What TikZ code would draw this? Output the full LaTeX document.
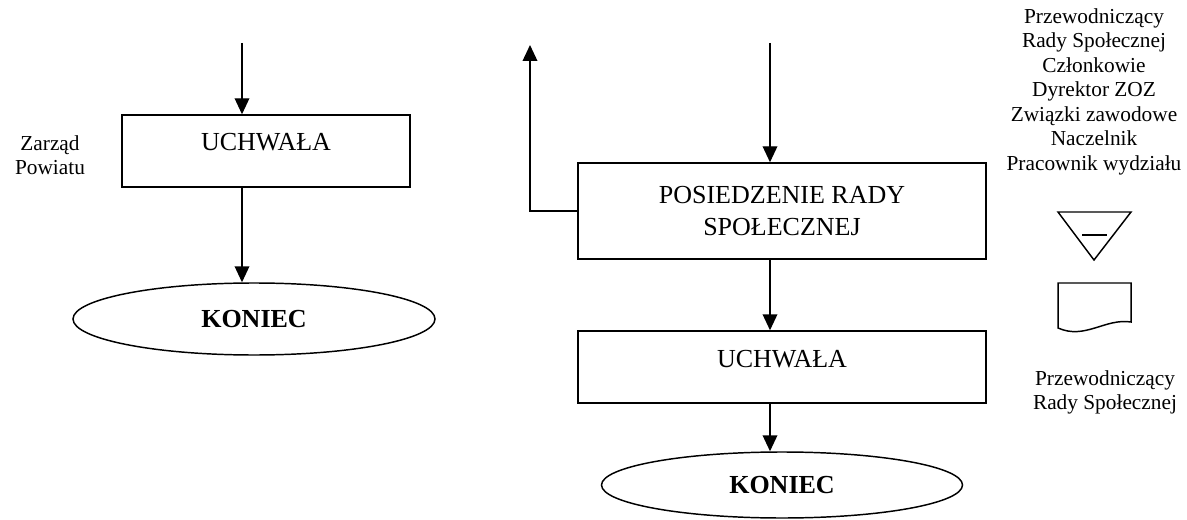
\documentclass[tikz,border=0pt]{standalone}
\usepackage{fontspec}
\setmainfont{Liberation Serif}
\usepackage[]{tikz}
\usetikzlibrary{positioning,shapes}
\usetikzlibrary{arrows.meta}
\tikzset{box node/.style={rectangle,draw,line width=1.1pt,inner sep=0pt,font=\fontsize{19.5}{24}\selectfont}}
\tikzset{one line/.style={text height=8pt,text depth=8pt}}
\tikzset{end node/.style={ellipse,draw,line width=1.1pt,inner sep=0pt,font=\fontsize{19.5}{24}\selectfont\bfseries}}
\tikzset{side text/.style={align=center,inner sep=0pt,font=\fontsize{16}{18.4}\selectfont}}
\tikzset{arr/.style={-{Triangle[length=12pt,width=11pt]},line width=1.1pt}}

\begin{document}
\begin{tikzpicture}[on grid, x=0.75pt, y=-0.75pt]
      \useasboundingbox (0,0) rectangle (1187,520);
      \node[box node, one line, minimum width=216pt, minimum height=54pt] (1) at (266,151) {UCHWAŁA};
      \node[end node, minimum width=271.5pt, minimum height=54pt] (2) [below left = 126pt and 9pt of 1] {KONIEC};
      \node[box node, align=center, minimum width=306pt, minimum height=72pt] (3) at (782,211) {POSIEDZENIE RADY\\SPOŁECZNEJ};
      \node[box node, one line, minimum width=306pt, minimum height=54pt] (4) [below = 117pt of 3] {UCHWAŁA};
      \node[end node, minimum width=270.75pt, minimum height=49.5pt] (5) [below = 88.5pt of 4] {KONIEC};
      \node[side text, anchor=north] (zarzad) at (50,135) {Zarząd\\Powiatu};
      \node[side text, anchor=north] (osoby) at (1094,8) {Przewodniczący\\Rady Społecznej\\Członkowie\\Dyrektor ZOZ\\Związki zawodowe\\Naczelnik\\Pracownik wydziału};
      \node[side text, anchor=north] (przew) at (1105,370) {Przewodniczący\\Rady Społecznej};
      \coordinate (a) at (242,43);
      \coordinate (b) at (770,43);
      \coordinate (c) at (530,45);
      \draw[arr] (a) -- (a |- 1.north);
      \draw[arr] (1.south -| a) -- (a |- 2.north);
      \draw[arr] (b) -- (b |- 3.north);
      \draw[arr] (3.south -| b) -- (b |- 4.north);
      \draw[arr] (4.south -| b) -- (b |- 5.north);
      \draw[arr] (3.west) -| (c);
      % symbole
      \draw[line width=1.1pt] (1058,212) -- (1131,212) -- (1094,260) -- cycle;
      \draw[line width=1.1pt] (1082,235) -- (1107,235);
      \draw[line width=1.1pt] (1058,283) -- (1131,283) -- (1131,322) .. controls (1105,318) and (1085,340) .. (1058,328) -- cycle;
    \end{tikzpicture}
\end{document}
